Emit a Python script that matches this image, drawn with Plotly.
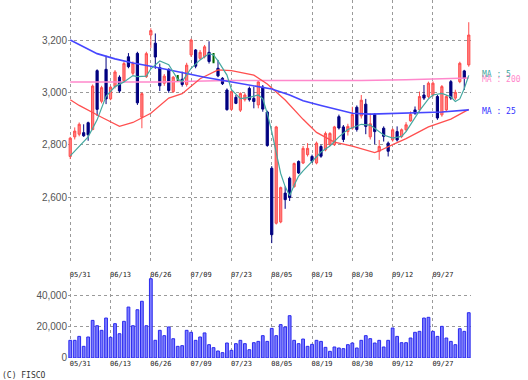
import plotly.graph_objects as go

dates = ["2024-05-31","2024-06-03","2024-06-04","2024-06-05","2024-06-06","2024-06-07","2024-06-10","2024-06-11","2024-06-12","2024-06-13",
"2024-06-14","2024-06-17","2024-06-18","2024-06-19","2024-06-20","2024-06-21","2024-06-24","2024-06-25","2024-06-26",
"2024-06-27","2024-06-28","2024-07-01","2024-07-02","2024-07-03","2024-07-04","2024-07-05","2024-07-08","2024-07-09",
"2024-07-10","2024-07-11","2024-07-12","2024-07-16","2024-07-17","2024-07-18","2024-07-19","2024-07-22","2024-07-23",
"2024-07-24","2024-07-25","2024-07-26","2024-07-29","2024-07-30","2024-07-31","2024-08-01","2024-08-02","2024-08-05",
"2024-08-06","2024-08-07","2024-08-08","2024-08-09","2024-08-13","2024-08-14","2024-08-15","2024-08-16","2024-08-19",
"2024-08-20","2024-08-21","2024-08-22","2024-08-23","2024-08-26","2024-08-27","2024-08-28","2024-08-29","2024-08-30",
"2024-09-02","2024-09-03","2024-09-04","2024-09-05","2024-09-06","2024-09-09","2024-09-10","2024-09-11","2024-09-12",
"2024-09-13","2024-09-17","2024-09-18","2024-09-19","2024-09-20","2024-09-24","2024-09-25","2024-09-26","2024-09-27",
"2024-09-30","2024-10-01","2024-10-02","2024-10-03","2024-10-04","2024-10-07","2024-10-08","2024-10-09"]

open_ = [2755,2830,2840,2846,2884,2858,3083,2966,3088,2975,
         3022,3058,3045,3136,3073,3149,2905,3060,3219,3188,
         3095,3035,3088,3003,3054,3050,3030,3143,3162,3130,
         3136,3153,3121,3092,3054,3009,2935,2981,2932,2972,
         3015,2977,2952,3020,2925,2710,2500,2505,2615,2672,
         2640,2736,2730,2762,2755,2730,2793,2780,2800,2800,
         2907,2868,2850,2863,2943,2910,2955,2830,2916,2775,
         2863,2806,2818,2850,2831,2857,2891,2933,2933,2990,
         2984,2990,2984,2914,2933,3041,2978,3041,3082,3105]
high = [2830,2866,2885,2878,2888,3030,3088,3025,3140,3025,
        3085,3065,3118,3150,3118,3155,3000,3155,3245,3225,
        3110,3070,3092,3062,3066,3079,3113,3205,3165,3162,
        3181,3195,3150,3124,3058,3015,3008,2990,3000,2997,
        3022,3022,3047,3028,2930,2718,2872,2640,2640,2678,
        2732,2740,2795,2806,2762,2812,2800,2850,2848,2872,
        2915,2875,2880,2945,2950,2990,2975,2920,2920,2818,
        2870,2812,2863,2870,2862,2886,2927,2946,3003,3028,
        3041,3042,2990,3028,2990,3047,3010,3117,3086,3268]
low = [2745,2820,2832,2830,2815,2855,2910,2958,2955,2970,
       3015,2998,3040,3092,3066,2952,2863,3055,3170,3090,
       3005,3025,2998,2998,3041,3022,3022,3135,3092,3124,
       3130,3110,3111,3058,3028,2930,2930,2955,2925,2965,
       2965,2939,2939,2926,2792,2424,2495,2500,2555,2585,
       2635,2688,2726,2755,2730,2725,2750,2775,2795,2795,
       2858,2810,2835,2857,2850,2900,2840,2820,2802,2742,
       2812,2755,2812,2812,2825,2850,2888,2914,2926,2971,
       2978,2984,2895,2907,2926,2971,2971,3035,3009,3098]
close = [2825,2852,2878,2834,2838,3024,2935,3018,2975,3020,
         3078,3005,3110,3098,3111,2960,2995,3148,3236,3135,
         3025,3062,3007,3058,3054,3030,3104,3200,3100,3153,
         3174,3118,3121,3063,3033,2934,3003,2958,2996,2990,
         2972,2965,3040,2936,2797,2456,2868,2636,2590,2598,
         2728,2692,2786,2786,2737,2806,2756,2843,2843,2868,
         2864,2820,2870,2915,2858,2970,2870,2880,2850,2793,
         2832,2775,2857,2818,2857,2876,2916,2920,2984,2978,
         3035,3035,2902,3022,2984,2978,3000,3111,3054,3219]

volume = [11270,11270,13800,7440,13400,24000,20600,17650,25500,13200,
          21900,15500,23400,32500,20600,30800,36200,20600,50600,11300,
          17650,14250,19800,12300,7440,7870,17650,16400,11270,13400,
          16000,8500,6600,4470,3400,9570,4900,9150,11270,9150,
          5300,9780,10600,14250,10600,18900,14250,21300,19800,27000,
          11270,9150,12100,7440,8720,11270,10600,6800,4250,7020,
          6380,5960,8500,9570,6380,11270,14250,12340,9570,11270,
          7020,11270,19140,13800,9780,9780,12760,16380,17000,25500,
          25950,17000,13800,20200,12760,10600,8500,18700,17000,28900]

# moving averages: (bar index, value)
ma5_idx = [0,4,6,8,10,12,14,15,17,18,20,22,24,25,27,29,31,32,33,35,36,38,40,42,43,44,45,46,47,48,49,50,51,52,54,56,58,60,62,64,65,67,68,70,72,74,75,76,78,80,81,83,85,86,87,88,89]
ma5_val = [2757,2830,2895,2985,3022,3040,3064,3060,3062,3090,3120,3106,3050,3042,3092,3124,3148,3143,3120,3066,3010,2976,2981,2990,2975,2920,2850,2765,2690,2640,2605,2645,2680,2700,2735,2772,2795,2830,2858,2872,2878,2875,2862,2837,2825,2832,2850,2876,2930,2975,2990,2996,2983,2965,2975,3015,3065]
ma25_idx = [0,3,6,10,14,18,22,26,30,34,40,45,49,52,56,60,63,67,75,83,89]
ma25_val = [3200,3175,3148,3128,3112,3100,3087,3072,3058,3046,3030,3013,2990,2968,2950,2933,2920,2917,2920,2925,2933]
ma75_idx = [0,2,7,11,14,18,22,25,29,33,36,41,44,48,52,55,59,63,68,69,72,75,80,85,89]
ma75_val = [2972,2950,2905,2870,2885,2920,2978,2995,3052,3086,3083,3066,3032,2971,2897,2847,2810,2795,2770,2776,2800,2823,2868,2898,2935]
ma200_idx = [0,20,35,50,65,75,89]
ma200_val = [3040,3040,3045,3044,3045,3048,3055]

tick_idx = [0,9,18,27,36,45,54,63,72,81]
tick_dates = [dates[i] for i in tick_idx]
tick_text = [d[5:7] + "/" + d[8:10] for d in tick_dates]

doji = [i for i in range(len(dates)) if open_[i] == close[i]]
norm = [i for i in range(len(dates)) if open_[i] != close[i]]

def pick(arr, idx):
    return [arr[i] for i in idx]

fig = go.Figure()
fig.add_trace(go.Candlestick(
    x=pick(dates, norm), open=pick(open_, norm), high=pick(high, norm),
    low=pick(low, norm), close=pick(close, norm),
    increasing=dict(line=dict(color="#ff4d4d", width=1), fillcolor="#ff8080"),
    decreasing=dict(line=dict(color="#000080", width=1), fillcolor="#000080"),
    whiskerwidth=0, showlegend=False, hoverinfo="skip", xaxis="x", yaxis="y"))
fig.add_trace(go.Candlestick(
    x=pick(dates, doji), open=pick(open_, doji), high=pick(high, doji),
    low=pick(low, doji), close=pick(close, doji),
    increasing=dict(line=dict(color="#006600", width=2), fillcolor="#006600"),
    decreasing=dict(line=dict(color="#006600", width=2), fillcolor="#006600"),
    whiskerwidth=0, showlegend=False, hoverinfo="skip", xaxis="x", yaxis="y"))

for idx, val, col, w in [(ma200_idx, ma200_val, "#ff88cc", 1.5),
                         (ma75_idx, ma75_val, "#ff4f4f", 1.3),
                         (ma25_idx, ma25_val, "#4646ff", 1.6),
                         (ma5_idx, ma5_val, "#45a8a0", 1.2)]:
    fig.add_trace(go.Scatter(x=[dates[i] for i in idx], y=val, mode="lines",
                             line=dict(color=col, width=w), showlegend=False,
                             hoverinfo="skip", xaxis="x", yaxis="y"))

fig.add_trace(go.Bar(x=dates, y=volume, width=0.62,
                     marker=dict(color="#7c7cff", line=dict(color="#2a2aee", width=1)),
                     showlegend=False, hoverinfo="skip", xaxis="x2", yaxis="y2"))

grid = dict(showgrid=True, gridcolor="#9a9a9a", griddash="dot", gridwidth=1,
            zeroline=False, showline=False, ticks="")
xcommon = dict(type="category", categoryorder="array", categoryarray=dates,
               range=[-0.5, 89.5], tickmode="array", tickvals=tick_dates, ticktext=tick_text,
               tickfont=dict(family="DejaVu Sans Mono", size=7, color="#222222"),
               ticklabelshift=10, rangeslider=dict(visible=False), **grid)
yfont = dict(family="Liberation Sans", size=10, color="#555555")

fig.update_layout(
    width=528, height=380, margin=dict(l=68, r=57, t=0, b=22),
    paper_bgcolor="white", plot_bgcolor="white",
    xaxis=dict(anchor="y", ticklabelstandoff=7, **xcommon),
    xaxis2=dict(anchor="y2", matches="x", **xcommon),
    yaxis=dict(domain=[0.268, 1.0], range=[2351.6, 3352.9],
               tickvals=[2600, 2800, 3000, 3200], tickformat=",d",
               tickfont=yfont, **grid),
    yaxis2=dict(domain=[0.0, 0.229], range=[0, 52316],
                tickvals=[0, 20000, 40000], tickformat=",d",
                tickfont=yfont, **grid),
    showlegend=False,
)

ann_font = "DejaVu Sans Mono"
fig.add_annotation(text="MA : 200", xref="paper", yref="paper", x=1.0223, y=0.7783,
                   xanchor="left", yanchor="middle", showarrow=False,
                   font=dict(family=ann_font, size=8, color="#ff88cc"))
fig.add_annotation(text="MA : 5", xref="paper", yref="paper", x=1.0223, y=0.793,
                   xanchor="left", yanchor="middle", showarrow=False,
                   font=dict(family=ann_font, size=8, color="#45a8a0"))
fig.add_annotation(text="MA : 25", xref="paper", yref="paper", x=1.0223, y=0.6897,
                   xanchor="left", yanchor="middle", showarrow=False,
                   font=dict(family=ann_font, size=8, color="#3030ff"))
fig.add_annotation(text="(C) FISCO", xref="paper", yref="paper", x=-0.1687, y=-0.048,
                   xanchor="left", yanchor="middle", showarrow=False,
                   font=dict(family=ann_font, size=8, color="#333333"))

fig.write_html("out.html", config={"displayModeBar": False},
               post_script="document.body.style.margin='0';document.body.style.overflow='hidden';")
